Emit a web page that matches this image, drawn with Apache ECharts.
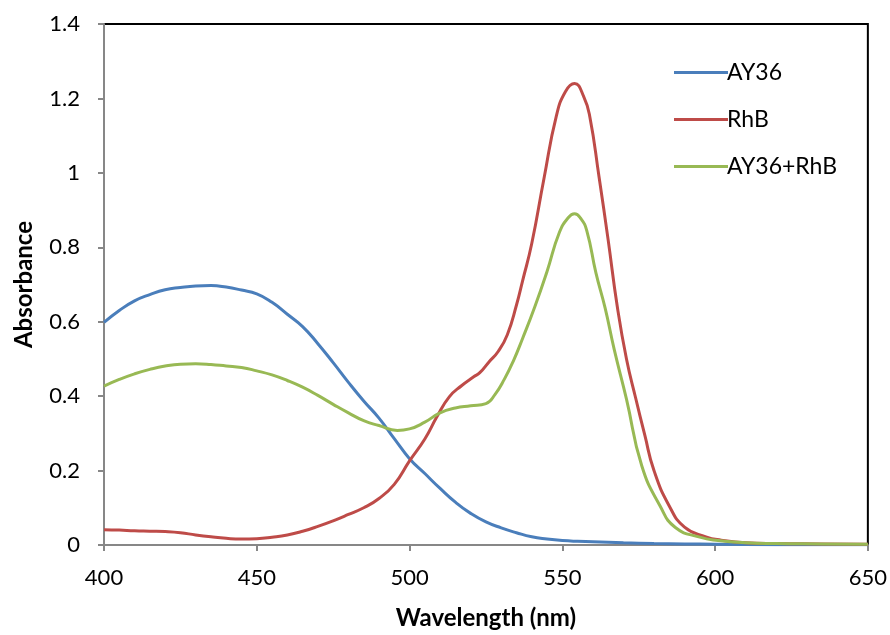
<!DOCTYPE html>
<html>
<head>
<meta charset="utf-8">
<script src="https://cdn.jsdelivr.net/npm/echarts@6/dist/echarts.min.js"></script>
<style>
html,body{margin:0;padding:0;background:#fff;}
#chart{width:890px;height:635px;}
</style>
</head>
<body>
<div id="chart"></div>
<script>
// Tick labels / axis ranges
const xTicks = [400, 450, 500, 550, 600, 650];
const yTicks = [0, 0.2, 0.4, 0.6, 0.8, 1, 1.2, 1.4];
const seriesNames = ['AY36', 'RhB', 'AY36+RhB'];

// AY36
const ay36Wl  = [400,405,410,415,420,425,430,435,440,445,450,455,460,465,470,475,480,485,490,495,500,505,510,515,520,525,530,535,540,545,550,555,560,570,580,590,600,620,650];
const ay36Abs = [0.598,0.630,0.656,0.673,0.686,0.692,0.696,0.697,0.693,0.685,0.675,0.652,0.620,0.587,0.541,0.490,0.437,0.387,0.341,0.286,0.232,0.192,0.152,0.115,0.085,0.062,0.046,0.033,0.022,0.016,0.012,0.010,0.009,0.006,0.004,0.003,0.002,0.001,0.001];

// RhB
const rhbWl  = [400,405,410,415,420,425,430,435,440,445,450,455,460,465,470,475,480,485,490,495,500,505,509,513,517,521,523,526,529,532,535,537,540,544,548,551,554,557,559,562,565,568,571,574,577,580,585,590,597,602,610,620,635,650];
const rhbAbs = [0.041,0.040,0.038,0.037,0.036,0.033,0.027,0.022,0.018,0.016,0.017,0.021,0.027,0.037,0.050,0.065,0.082,0.100,0.125,0.163,0.226,0.285,0.345,0.398,0.428,0.452,0.463,0.492,0.520,0.565,0.645,0.710,0.810,0.985,1.151,1.218,1.240,1.205,1.151,0.990,0.820,0.640,0.500,0.395,0.295,0.200,0.105,0.048,0.022,0.013,0.006,0.004,0.003,0.002];

// AY36+RhB
const mixWl  = [400,405,410,415,420,425,430,435,440,445,450,455,460,465,470,475,480,485,490,496,500,505,510,515,520,525,528,531,534,537,541,545,549,552,554,556,558,561,564,567,571,576,582,587,595,601,610,620,635,650];
const mixAbs = [0.427,0.445,0.460,0.472,0.481,0.486,0.487,0.485,0.481,0.477,0.468,0.457,0.442,0.424,0.402,0.378,0.355,0.334,0.321,0.308,0.312,0.330,0.355,0.368,0.374,0.380,0.405,0.445,0.495,0.555,0.640,0.735,0.839,0.880,0.890,0.878,0.845,0.731,0.637,0.525,0.392,0.213,0.105,0.047,0.021,0.012,0.006,0.004,0.003,0.002];

function pairs(xs, ys){ return xs.map((x,i)=>[x, ys[i]]); }

const FONT = 'Lato, "Open Sans", sans-serif';
const colors = ['#4A7EBB', '#BE4B48', '#98B954'];

const chart = echarts.init(document.getElementById('chart'), null, {renderer:'canvas'});
const mkSeries = (name, data, color) => ({
  name: name, type: 'line', data: data, showSymbol: false, symbol: 'none',
  smooth: 0.5,
  lineStyle: {color: color, width: 3}, itemStyle: {color: color},
  animation: false
});

chart.setOption({
  animation: false,
  textStyle: {fontFamily: FONT},
  grid: {left: 104, right: 21, top: 24, bottom: 89, show: true, borderColor: '#000', borderWidth: 2, backgroundColor: 'transparent'},
  legend: {
    orient: 'vertical', left: 669, top: 56,
    icon: 'rect', itemWidth: 54, itemHeight: 3, itemGap: 24,
    textStyle: {fontFamily: FONT, fontSize: 23, color: '#000', padding: [0,0,0,-6]},
    data: seriesNames
  },
  xAxis: {
    type: 'value', min: xTicks[0], max: xTicks[xTicks.length-1], interval: 50,
    name: 'Wavelength (nm)', nameLocation: 'middle', nameGap: 61,
    nameTextStyle: {fontFamily: FONT, fontSize: 24, fontWeight: 'bold', color: '#000'},
    axisLine: {show: true, onZero: false, lineStyle: {color: '#878787', width: 2}},
    axisTick: {show: true, inside: false, length: 6, lineStyle: {color: '#878787', width: 2}},
    axisLabel: {fontFamily: FONT, fontSize: 22, color: '#000', margin: 22},
    splitLine: {show: false}
  },
  yAxis: {
    type: 'value', min: yTicks[0], max: yTicks[yTicks.length-1], interval: 0.2,
    name: 'Absorbance', nameLocation: 'middle', nameGap: 68,
    nameTextStyle: {fontFamily: FONT, fontSize: 24, fontWeight: 'bold', color: '#000'},
    axisLine: {show: true, lineStyle: {color: '#878787', width: 2}},
    axisTick: {show: true, inside: false, length: 6, lineStyle: {color: '#878787', width: 2}},
    axisLabel: {fontFamily: FONT, fontSize: 22, color: '#000', margin: 24,
      formatter: v => String(Math.round(v*10)/10)},
    splitLine: {show: false}
  },
  series: [
    mkSeries(seriesNames[0], pairs(ay36Wl, ay36Abs), colors[0]),
    mkSeries(seriesNames[1], pairs(rhbWl, rhbAbs), colors[1]),
    mkSeries(seriesNames[2], pairs(mixWl, mixAbs), colors[2])
  ]
});
</script>
</body>
</html>
